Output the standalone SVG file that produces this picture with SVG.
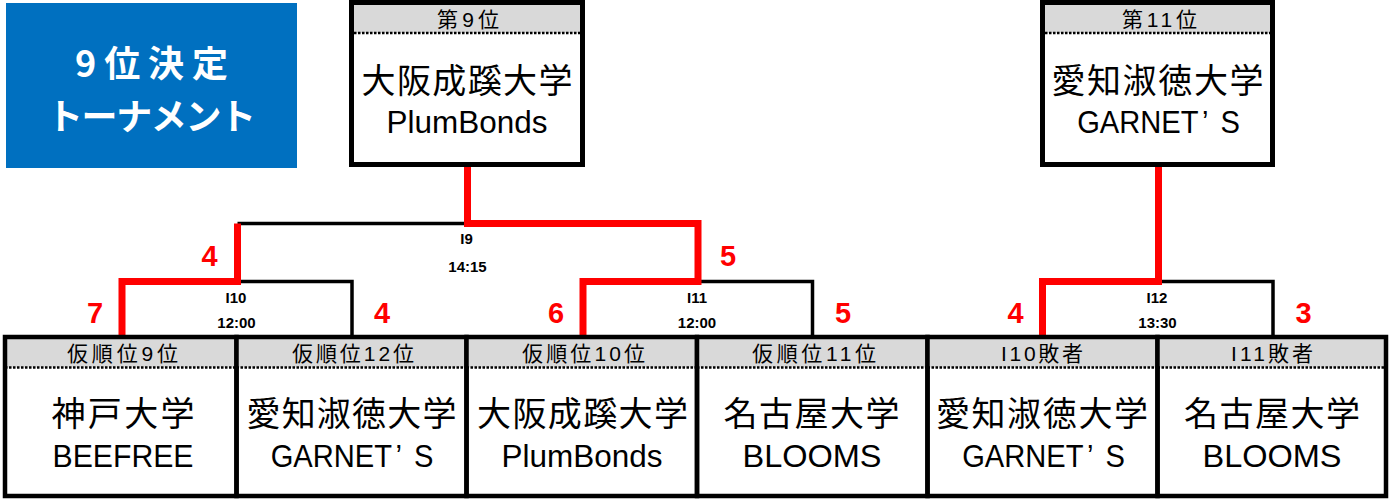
<svg xmlns="http://www.w3.org/2000/svg" width="1392" height="501" viewBox="0 0 1392 501">
<style>
  text { font-family: "Liberation Sans", "Noto Sans CJK JP", sans-serif; fill: #000; text-anchor: middle; }
  .hdr { font-size: 21px; }
  .cjk { font-size: 34px; font-family: "Noto Sans CJK JP", "Liberation Sans", sans-serif; }
  .lat { font-size: 32px; }
  .title { font-size: 36px; font-weight: bold; fill: #fff; font-family: "Noto Sans CJK JP", "Liberation Sans", sans-serif; }
  .match { font-size: 15px; font-weight: bold; }
  .score { font-size: 29px; font-weight: bold; fill: #FF0000; }
  .band { fill: #D9D9D9; }
  .frame { fill: none; stroke: #000; stroke-width: 4.5; }
  .dots { stroke: #000; stroke-width: 2.5; stroke-dasharray: 2.5 1.5; fill: none; }
  .blk { fill: none; stroke: #000; stroke-width: 3.5; }
  .red { fill: none; stroke: #FF0000; stroke-width: 7; stroke-linejoin: miter; }
</style>

<g id="connectors">
  <path class="blk" d="M237.5 223.5 H467.5"/>
  <path class="blk" d="M237.5 281.5 H352 V337"/>
  <path class="blk" d="M698 281.5 H812.5 V337"/>
  <path class="blk" d="M1158.5 281.5 H1273 V337"/>
  <path class="red" d="M467.5 167 V223.5 H698 V281.5 H583 V337"/>
  <path class="red" d="M237.5 223.5 V281.5 H122 V337"/>
  <path class="red" d="M1158.5 167 V281.5 H1042.5 V337"/>
</g>

<g id="match-labels">
  <text class="match" x="466.5" y="244">I9</text>
  <text class="match" x="467.5" y="272">14:15</text>
  <text class="match" x="236" y="303">I10</text>
  <text class="match" x="236.5" y="328">12:00</text>
  <text class="match" x="697" y="303">I11</text>
  <text class="match" x="697" y="328">12:00</text>
  <text class="match" x="1157" y="303">I12</text>
  <text class="match" x="1157.5" y="328">13:30</text>
</g>

<g id="scores">
  <text class="score" x="209.5" y="266">4</text>
  <text class="score" x="728" y="266">5</text>
  <text class="score" x="95" y="323">7</text>
  <text class="score" x="382" y="323">4</text>
  <text class="score" x="556" y="323">6</text>
  <text class="score" x="843" y="323">5</text>
  <text class="score" x="1015.5" y="323">4</text>
  <text class="score" x="1303.5" y="323">3</text>
</g>

<g id="title">
  <rect x="6" y="3" width="291" height="165" fill="#0070C0"/>
  <text class="title" x="151.5" y="77" textLength="153" lengthAdjust="spacing">9位決定</text>
  <text class="title" x="151.5" y="129.5" textLength="209" lengthAdjust="spacing">トーナメント</text>
</g>

<g id="rank9">
  <rect x="351.5" y="2.5" width="231" height="162" fill="#fff"/>
  <rect class="band" x="351.5" y="2.5" width="231" height="30.5"/>
  <line class="dots" x1="354" y1="33" x2="580" y2="33"/>
  <rect class="frame" x="351.5" y="2.5" width="231" height="162" style="stroke-width:5"/>
  <text class="hdr" x="468" y="27" textLength="62" lengthAdjust="spacing">第9位</text>
  <text class="cjk" x="467" y="93" textLength="211" lengthAdjust="spacing">大阪成蹊大学</text>
  <text class="lat" x="467" y="133" textLength="161" lengthAdjust="spacingAndGlyphs">PlumBonds</text>
</g>

<g id="rank11">
  <rect x="1042.5" y="2.5" width="230" height="162" fill="#fff"/>
  <rect class="band" x="1042.5" y="2.5" width="230" height="30.5"/>
  <line class="dots" x1="1045" y1="33" x2="1270" y2="33"/>
  <rect class="frame" x="1042.5" y="2.5" width="230" height="162" style="stroke-width:5"/>
  <text class="hdr" x="1159.5" y="27" textLength="75" lengthAdjust="spacing">第11位</text>
  <text class="cjk" x="1157.5" y="93" textLength="212" lengthAdjust="spacing">愛知淑徳大学</text>
  <text class="lat" transform="translate(1158.5 133) scale(0.91 1)">GARNET<tspan dx="4">’</tspan><tspan dx="13">S</tspan></text>
</g>

<g id="seed9">
  <rect class="band" x="5" y="337" width="231.5" height="30.5"/>
  <line class="dots" x1="5" y1="367.5" x2="236.5" y2="367.5"/>
  <rect class="frame" x="5" y="337" width="231.5" height="159"/>
  <text class="hdr" x="122.5" y="361" textLength="111" lengthAdjust="spacing">仮順位9位</text>
  <text class="cjk" x="123" y="426" textLength="143" lengthAdjust="spacing">神戸大学</text>
  <text class="lat" x="123" y="467" textLength="141" lengthAdjust="spacingAndGlyphs">BEEFREE</text>
</g>

<g id="seed12">
  <rect class="band" x="236.5" y="337" width="230" height="30.5"/>
  <line class="dots" x1="236.5" y1="367.5" x2="466.5" y2="367.5"/>
  <rect class="frame" x="236.5" y="337" width="230" height="159"/>
  <text class="hdr" x="353" y="361" textLength="122" lengthAdjust="spacing">仮順位12位</text>
  <text class="cjk" x="351.5" y="426" textLength="210" lengthAdjust="spacing">愛知淑徳大学</text>
  <text class="lat" transform="translate(352 467) scale(0.91 1)">GARNET<tspan dx="4">’</tspan><tspan dx="13">S</tspan></text>
</g>

<g id="seed10">
  <rect class="band" x="466.5" y="337" width="230.5" height="30.5"/>
  <line class="dots" x1="466.5" y1="367.5" x2="697" y2="367.5"/>
  <rect class="frame" x="466.5" y="337" width="230.5" height="159"/>
  <text class="hdr" x="583.5" y="361" textLength="123" lengthAdjust="spacing">仮順位10位</text>
  <text class="cjk" x="582.5" y="426" textLength="211" lengthAdjust="spacing">大阪成蹊大学</text>
  <text class="lat" x="582" y="467" textLength="161" lengthAdjust="spacingAndGlyphs">PlumBonds</text>
</g>

<g id="seed11">
  <rect class="band" x="697" y="337" width="230.5" height="30.5"/>
  <line class="dots" x1="697" y1="367.5" x2="927.5" y2="367.5"/>
  <rect class="frame" x="697" y="337" width="230.5" height="159"/>
  <text class="hdr" x="814" y="361" textLength="124" lengthAdjust="spacing">仮順位11位</text>
  <text class="cjk" x="811.5" y="426" textLength="176" lengthAdjust="spacing">名古屋大学</text>
  <text class="lat" x="812" y="467" textLength="139" lengthAdjust="spacingAndGlyphs">BLOOMS</text>
</g>

<g id="loserI10">
  <rect class="band" x="927.5" y="337" width="230" height="30.5"/>
  <line class="dots" x1="927.5" y1="367.5" x2="1157.5" y2="367.5"/>
  <rect class="frame" x="927.5" y="337" width="230" height="159"/>
  <text class="hdr" x="1042" y="361" textLength="82" lengthAdjust="spacing">I10敗者</text>
  <text class="cjk" x="1042" y="426" textLength="212" lengthAdjust="spacing">愛知淑徳大学</text>
  <text class="lat" transform="translate(1043.5 467) scale(0.91 1)">GARNET<tspan dx="4">’</tspan><tspan dx="13">S</tspan></text>
</g>

<g id="loserI11">
  <rect class="band" x="1157.5" y="337" width="228.5" height="30.5"/>
  <line class="dots" x1="1157.5" y1="367.5" x2="1386" y2="367.5"/>
  <rect class="frame" x="1157.5" y="337" width="228.5" height="159"/>
  <text class="hdr" x="1272" y="361" textLength="82" lengthAdjust="spacing">I11敗者</text>
  <text class="cjk" x="1272" y="426" textLength="176" lengthAdjust="spacing">名古屋大学</text>
  <text class="lat" x="1272" y="467" textLength="139" lengthAdjust="spacingAndGlyphs">BLOOMS</text>
</g>
</svg>
